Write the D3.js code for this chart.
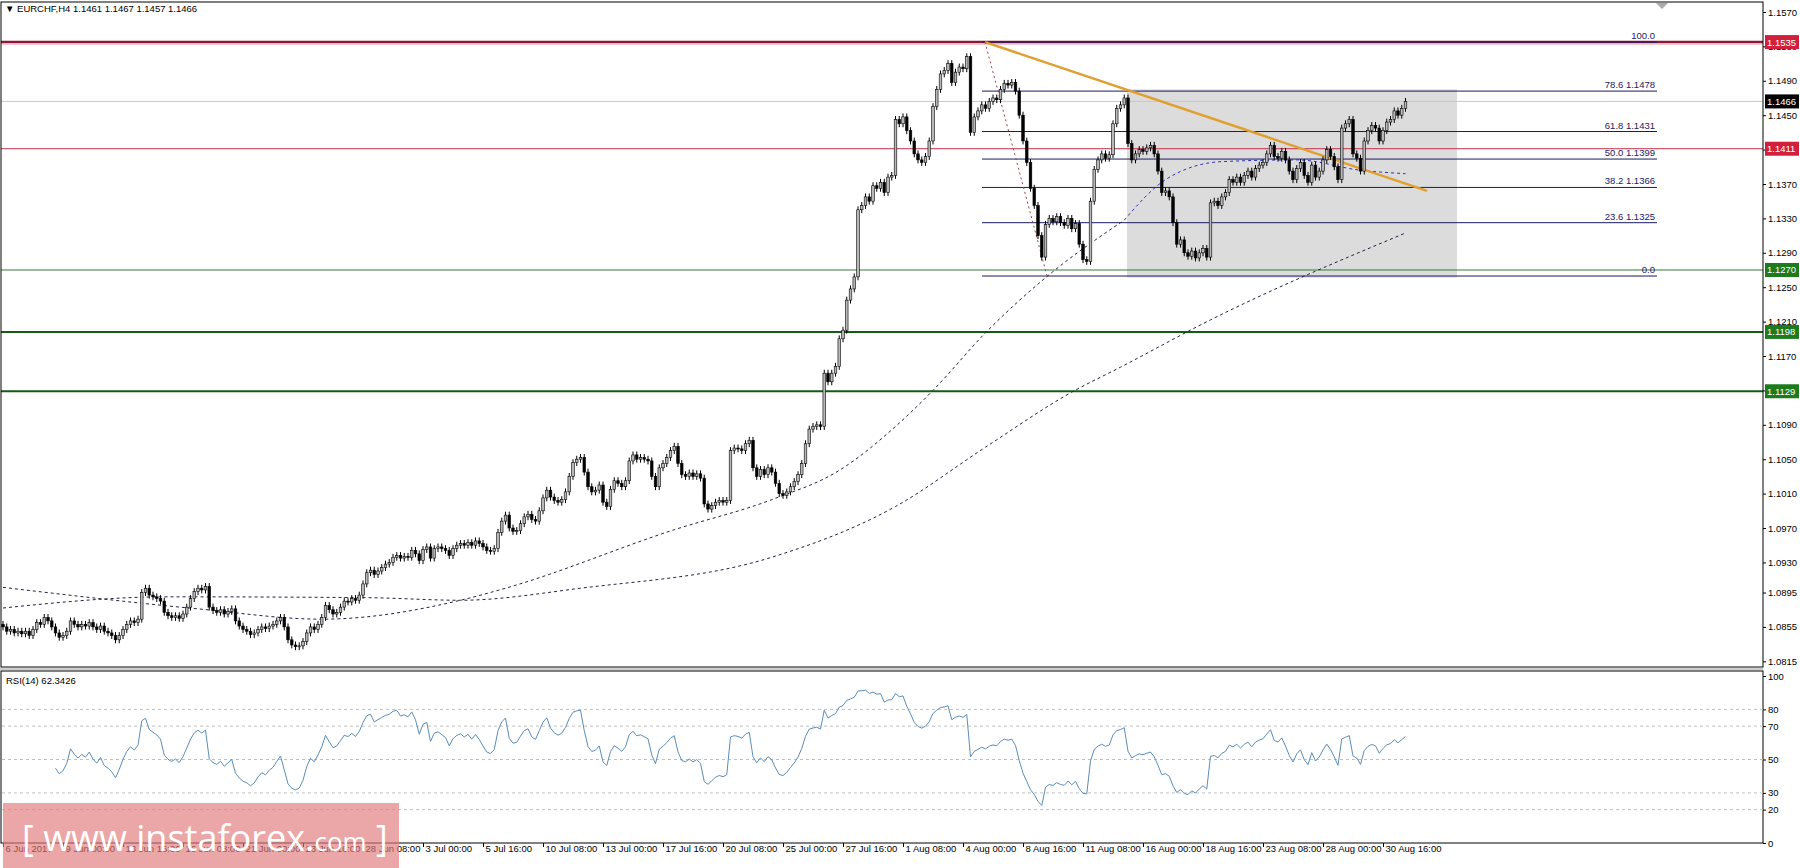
<!DOCTYPE html>
<html>
<head>
<meta charset="utf-8">
<script src="https://cdn.jsdelivr.net/npm/d3@7"></script>
<style>
  body { margin: 0; background: #fff; }
  svg { display: block; font-family: "Liberation Sans", sans-serif; }
</style>
</head>
<body>
<div id="chart"></div>
<script>
// EURCHF H4 closes, 6 Jun - 31 Aug 2017
const closes = [
  1.0855,1.0850,1.0852,1.0848,1.0850,1.0847,1.0850,1.0845,1.0852,1.0860,1.0858,1.0866,1.0862,
  1.0855,1.0848,1.0843,1.0845,1.0850,
  1.0862,1.0858,1.0855,1.0858,1.0856,1.0860,1.0855,1.0852,1.0856,1.0850,1.0848,1.0845,1.0840,1.0845,1.0852,1.0858,1.0862,1.0860,1.0864,
  1.0895,1.0900,
  1.0892,1.0890,1.0888,1.0885,1.0872,1.0868,
  1.0866,1.0868,1.0865,1.0870,
  1.0878,1.0888,1.0896,1.0900,1.0898,1.0902,
  1.0878,
  1.0874,1.0872,1.0875,1.0870,1.0873,1.0876,
  1.0862,1.0856,1.0852,1.0850,1.0846,1.0848,1.0852,1.0855,1.0853,1.0856,1.0858,
  1.0862,1.0866,1.0855,
  1.0840,1.0834,1.0832,1.0833,1.0838,
  1.0848,1.0855,1.0852,1.0858,1.0866,1.0880,
  1.0875,1.0870,1.0872,1.0878,1.0885,
  1.0884,1.0888,1.0886,1.0892,1.0905,1.0918,
  1.0921,1.0916,1.0920,1.0924,1.0928,1.0930,
  1.0936,1.0938,1.0935,1.0937,1.0936,1.0944,1.0940,1.0932,
  1.0945,1.0948,1.0935,1.0946,1.0948,1.0946,1.0944,1.0938,1.0946,1.0950,
  1.0952,1.0950,1.0953,1.0950,1.0955,1.0952,1.0948,1.0944,1.0943,1.0946,
  1.0965,1.0978,1.0985,1.0970,1.0966,1.0967,
  1.0975,1.0983,1.0986,1.0980,1.0978,1.0990,1.1005,1.1014,
  1.1006,1.1002,1.1000,1.1003,1.1012,1.1030,1.1046,1.1050,1.1052,
  1.1035,1.1018,1.1012,1.1014,
  1.1020,1.1000,1.0995,1.1015,1.1025,1.1022,1.1018,1.1025,
  1.1048,1.1055,1.1050,1.1052,1.1050,1.1048,
  1.1030,1.1018,1.1040,1.1045,
  1.1052,1.1060,1.1065,1.1045,
  1.1032,1.1030,1.1034,1.1030,1.1033,1.1028,
  1.0998,1.0992,1.0996,1.1000,1.1002,1.1000,1.1002,
  1.1060,1.1063,1.1062,1.1060,1.1068,1.1072,
  1.1040,1.1030,1.1038,1.1032,1.1040,1.1035,1.1022,
  1.1010,1.1008,1.1012,1.1018,1.1024,1.1032,
  1.1045,1.1068,1.1085,1.1088,1.1090,1.1088,
  1.1150,
  1.1140,1.1150,1.1158,
  1.1190,1.1200,
  1.1235,1.1248,1.1262,
  1.1340,
  1.1345,1.1355,1.1350,1.1368,
  1.1365,1.1372,1.1360,1.1378,1.1380,
  1.1445,1.1440,1.1448,
  1.1432,1.1420,1.1405,1.1398,1.1395,1.1402,
  1.1420,1.1460,1.1480,1.1498,
  1.1502,1.1510,1.1488,1.1500,1.1506,1.1504,
  1.1518,1.1430,
  1.1448,1.1455,1.1462,1.1458,1.1466,1.1470,1.1468,
  1.1480,1.1487,1.1485,1.1488,1.1478,
  1.1450,1.1420,1.1395,1.1365,1.1345,
  1.1310,
  1.1285,1.1323,1.1330,1.1326,1.1332,
  1.1325,1.1322,1.1330,1.1318,1.1324,
  1.1300,1.1282,1.1280,1.1350,
  1.1387,
  1.1398,1.1405,1.1400,1.1404,
  1.1440,1.1458,1.1462,1.1470,
  1.1417,
  1.1398,1.1405,1.1410,1.1408,1.1412,1.1415,
  1.1405,1.1385,1.1360,1.1362,
  1.1355,1.1325,1.1300,1.1305,1.1290,
  1.1286,1.1292,1.1284,1.1290,1.1295,1.1285,
  1.1348,
  1.1350,1.1345,1.1355,1.1360,1.1375,1.1372,1.1378,
  1.1372,1.1380,1.1385,1.1378,1.1388,1.1392,1.1395,
  1.1405,1.1415,1.1402,1.1400,1.1408,1.1398,
  1.1385,1.1375,1.1388,1.1395,1.1380,1.1372,1.1392,
  1.1378,1.1385,1.1398,1.1410,1.1402,
  1.1390,1.1375,1.1435,1.1440,
  1.1445,1.1405,1.1400,1.1385,
  1.1420,1.1432,1.1438,1.1435,
  1.1420,1.1432,1.1442,1.1445,
  1.1455,1.1450,1.1458,1.1466
];
const firstOpen = 1.0858;

// moving averages read at a few bars: [bar, price]
const maFast = [[0,1.0901],[52,1.0876],[85,1.0864],[122,1.0886],[134,1.0900],[179,1.0968],[205,1.1003],
  [223,1.1037],[239,1.1092],[248,1.1130],[262,1.1197],[278,1.1261],[299,1.1328],[310,1.1375],
  [325,1.1396],[345,1.1398],[362,1.1386],[374,1.1382]];
const maSlow = [[0,1.0877],[44,1.0890],[97,1.0889],[122,1.0886],[154,1.0900],[205,1.0936],[238,1.0995],
  [262,1.1064],[285,1.1128],[298,1.1157],[322,1.1212],[374,1.1313]];

const dateLabels = ["6 Jun 2017","9 Jun 00:00","13 Jun 16:00","16 Jun 08:00","21 Jun 00:00","23 Jun 16:00",
  "28 Jun 08:00","3 Jul 00:00","5 Jul 16:00","10 Jul 08:00","13 Jul 00:00","17 Jul 16:00","20 Jul 08:00",
  "25 Jul 00:00","27 Jul 16:00","1 Aug 08:00","4 Aug 00:00","8 Aug 16:00","11 Aug 08:00","16 Aug 00:00",
  "18 Aug 16:00","23 Aug 08:00","28 Aug 00:00","30 Aug 16:00"];
const priceTicks = [1.1570,1.1530,1.1490,1.1450,1.1410,1.1370,1.1330,1.1290,1.1250,1.1210,1.1170,1.1130,
  1.1090,1.1050,1.1010,1.0970,1.0930,1.0895,1.0855,1.0815];
const rsiLevels = [80,70,50,30,20];
const rsiTicks = [100,80,70,50,30,20,0];
const fibLevels = [[100.0,1.1535],[78.6,1.1478],[61.8,1.1431],[50.0,1.1399],[38.2,1.1366],[23.6,1.1325],[0.0,1.1263]];
const hLines = [
  {p:1.1535, c:"#8b1a3a", w:2.5, box:"#d0203c"},
  {p:1.1466, c:"#c8c8c8", w:1, box:"#000"},
  {p:1.1411, c:"#c0304c", w:1, box:"#d0203c"},
  {p:1.1270, c:"#3a7a3a", w:1, box:"#1d7a1d"},
  {p:1.1198, c:"#155a15", w:2, box:"#1d7a1d"},
  {p:1.1129, c:"#155a15", w:2, box:"#1d7a1d"}
];

const W = 1800, H = 868, right = 1763;
const mainTop = 2, mainBot = 667, rsiTop = 671, rsiBot = 843;
const fs = 9.5;

const x = d3.scaleLinear().domain([0, 470]).range([3, 3 + 470 * 3.75]);
const y = d3.scaleLinear().domain([1.08084, 1.15816]).range([mainBot, mainTop]);
const yr = d3.scaleLinear().domain([0, 100]).range([rsiBot, 676]);

const bars = closes.map((c, i) => {
  const o = i === 0 ? firstOpen : closes[i - 1];
  return {i, o, c, h: Math.max(o, c) + 0.0004, l: Math.min(o, c) - 0.0004};
});

// RSI(14), Wilder smoothing
const rsi = [];
let ag = 0, al = 0;
for (let i = 1; i < closes.length; i++) {
  const d = closes[i] - closes[i - 1];
  const g = Math.max(d, 0), lo = Math.max(-d, 0);
  if (i <= 14) { ag += g / 14; al += lo / 14; }
  else { ag = (ag * 13 + g) / 14; al = (al * 13 + lo) / 14; }
  if (i >= 14) rsi.push([i, al === 0 ? 100 : 100 - 100 / (1 + ag / al)]);
}

const svg = d3.select("#chart").append("svg").attr("width", W).attr("height", H);

svg.append("clipPath").attr("id", "mc").append("rect")
  .attr("x", 1).attr("y", mainTop).attr("width", right - 1).attr("height", mainBot - mainTop);
const g = svg.append("g").attr("clip-path", "url(#mc)");

// fib box
g.append("rect").attr("x", 1127).attr("width", 1457 - 1127)
  .attr("y", y(1.1480)).attr("height", y(1.1261) - y(1.1480)).attr("fill", "#dcdcdc");

// horizontal levels
hLines.forEach(d => {
  g.append("line").attr("x1", 0).attr("x2", right).attr("y1", y(d.p)).attr("y2", y(d.p))
    .attr("stroke", d.c).attr("stroke-width", d.w);
});
g.append("line").attr("x1", 0).attr("x2", right).attr("y1", y(1.1535) + 2).attr("y2", y(1.1535) + 2)
  .attr("stroke", "#f0a0b0").attr("stroke-width", 1);

// fib levels
fibLevels.forEach(([lv, p]) => {
  g.append("line").attr("x1", 982).attr("x2", 1657).attr("y1", y(p)).attr("y2", y(p))
    .attr("stroke", "#1a1a60").attr("stroke-width", 1);
  g.append("text").attr("x", 1655).attr("y", y(p) - 3).attr("text-anchor", "end")
    .attr("font-size", fs).attr("fill", "#1a1a60")
    .text(lv === 100 || lv === 0 ? lv.toFixed(1) : lv.toFixed(1) + " " + p.toFixed(4));
});

// moving averages
const maLine = d3.line().x(d => x(d[0])).y(d => y(d[1])).curve(d3.curveMonotoneX);
g.append("path").attr("d", maLine(maSlow)).attr("fill", "none")
  .attr("stroke", "#222244").attr("stroke-width", 1).attr("stroke-dasharray", "3,3");
g.append("path").attr("d", maLine(maFast.filter(d => d[0] <= 299))).attr("fill", "none")
  .attr("stroke", "#222244").attr("stroke-width", 1).attr("stroke-dasharray", "3,3");
g.append("path").attr("d", maLine(maFast.filter(d => d[0] >= 299))).attr("fill", "none")
  .attr("stroke", "#3030c0").attr("stroke-width", 1).attr("stroke-dasharray", "3,3");

// trend lines
g.append("line").attr("x1", 985).attr("y1", y(1.1535)).attr("x2", 1427).attr("y2", y(1.1362))
  .attr("stroke", "#e0a030").attr("stroke-width", 2.5);
g.append("line").attr("x1", 985).attr("y1", y(1.1535)).attr("x2", 1047).attr("y2", y(1.1263))
  .attr("stroke", "#a04040").attr("stroke-width", 1).attr("stroke-dasharray", "2,3");

// candles
const cg = g.append("g");
cg.selectAll("line.w").data(bars).join("line")
  .attr("x1", d => x(d.i)).attr("x2", d => x(d.i)).attr("y1", d => y(d.h)).attr("y2", d => y(d.l))
  .attr("stroke", "#000").attr("stroke-width", 1);
cg.selectAll("rect.b").data(bars).join("rect")
  .attr("x", d => x(d.i) - 1.3).attr("width", 2.6)
  .attr("y", d => y(Math.max(d.o, d.c)))
  .attr("height", d => Math.max(1, Math.abs(y(d.o) - y(d.c))))
  .attr("fill", d => d.c >= d.o ? "#b8b8b8" : "#000").attr("stroke", "#000").attr("stroke-width", 0.6);

// frames
svg.append("rect").attr("x", 1).attr("y", mainTop).attr("width", right - 1).attr("height", mainBot - mainTop)
  .attr("fill", "none").attr("stroke", "#000");
svg.append("rect").attr("x", 1).attr("y", rsiTop).attr("width", right - 1).attr("height", rsiBot - rsiTop)
  .attr("fill", "none").attr("stroke", "#000");
svg.append("line").attr("x1", 0).attr("x2", right).attr("y1", 669).attr("y2", 669).attr("stroke", "#999");

// price axis
const ya = svg.append("g").attr("transform", `translate(${right},0)`)
  .call(d3.axisRight(y).tickValues(priceTicks).tickSize(3).tickPadding(2).tickFormat(d3.format(".4f")));
ya.select(".domain").remove();
ya.selectAll("text").attr("font-size", fs).attr("fill", "#000").attr("font-family", "Liberation Sans");

hLines.forEach(d => {
  svg.append("rect").attr("x", right + 2).attr("y", y(d.p) - 7).attr("width", 34).attr("height", 14).attr("fill", d.box);
  svg.append("text").attr("x", right + 4).attr("y", y(d.p) + 3.5).attr("font-size", fs)
    .attr("fill", "#fff").text(d.p.toFixed(4));
});

// header
svg.append("text").attr("x", 5).attr("y", 12).attr("font-size", fs).attr("fill", "#000")
  .text("\u25BC EURCHF,H4  1.1461 1.1467 1.1457 1.1466");
svg.append("path").attr("d", "M1656,3 L1668,3 L1662,9 Z").attr("fill", "#aaa");

// RSI panel
rsiLevels.forEach(v => {
  svg.append("line").attr("x1", 2).attr("x2", right).attr("y1", yr(v)).attr("y2", yr(v))
    .attr("stroke", "#c0c0c0").attr("stroke-dasharray", "3,3");
});
svg.append("path").datum(rsi)
  .attr("d", d3.line().x(d => x(d[0])).y(d => yr(d[1])))
  .attr("fill", "none").attr("stroke", "#5b8db8").attr("stroke-width", 1);
svg.append("text").attr("x", 6).attr("y", 684).attr("font-size", fs).text("RSI(14) 62.3426");
const ra = svg.append("g").attr("transform", `translate(${right},0)`)
  .call(d3.axisRight(yr).tickValues(rsiTicks).tickSize(3).tickPadding(2));
ra.select(".domain").remove();
ra.selectAll("text").attr("font-size", fs).attr("font-family", "Liberation Sans");

// time axis
const xa = svg.append("g").attr("transform", `translate(0,${rsiBot})`)
  .call(d3.axisBottom(x).tickValues(dateLabels.map((d, i) => i * 16)).tickSize(4)
    .tickFormat((d, i) => dateLabels[i]));
xa.select(".domain").remove();
xa.selectAll("text").attr("text-anchor", "start").attr("dx", 2).attr("dy", 2)
  .attr("font-size", fs).attr("font-family", "Liberation Sans");

// watermark
svg.append("rect").attr("x", 3).attr("y", 803).attr("width", 396).attr("height", 65)
  .attr("fill", "#e07878").attr("opacity", 0.65);
const wm = svg.append("text").attr("x", 22).attr("y", 851).attr("fill", "#fff").attr("font-family", "Open Sans");
wm.append("tspan").attr("font-size", 36).text("[  www.instaforex.");
wm.append("tspan").attr("font-size", 26).text("com");
wm.append("tspan").attr("font-size", 36).text(" ]");
</script>
</body>
</html>
